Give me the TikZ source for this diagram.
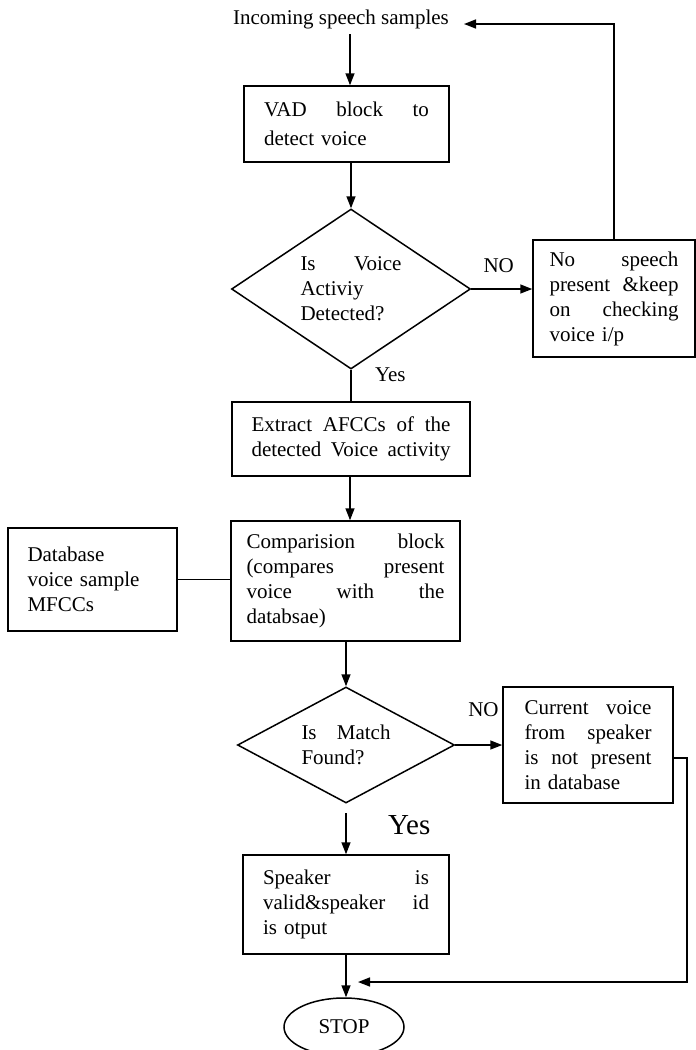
\documentclass[tikz,border=0pt]{standalone}
\usepackage{fontspec}
\setmainfont{Liberation Serif}
\usetikzlibrary{shapes.geometric,arrows.meta}
\newcommand{\jl}[1]{\makebox[\hsize][s]{\spaceskip=0.25em plus 1fil\relax #1}}
\begin{document}
\begin{tikzpicture}[x=1pt,y=-1pt,line width=1.5pt,
    font=\fontsize{21}{25}\selectfont,
    blk/.style={draw, rectangle, inner sep=0pt, align=left},
    dec/.style={draw, diamond, shape aspect=1.5, inner sep=0pt, align=left},
    arr/.style={-{Triangle[length=12pt,width=9pt]}}]
  \useasboundingbox (0,0) rectangle (696,1050);

  \node[inner sep=0pt] (nIn) at (341,19) {Incoming speech samples};
  \node[blk, minimum width=205, minimum height=76, text width=165,
        font=\fontsize{21}{29}\selectfont] (nVad) at (346.5,124)
        {\jl{VAD block to}\\detect voice};
  \node[dec, minimum width=239, minimum height=160, text width=101] (nVoice) at (351,289)
        {\jl{Is Voice}\\Activiy\\Detected?};
  \node[blk, minimum width=162, minimum height=117, text width=129] (nNoSp) at (614,298.5)
        {\jl{No speech}\\\jl{present \&keep}\\\jl{on checking}\\voice i/p};
  \node[blk, minimum width=238, minimum height=74, text width=199] (nExt) at (351,439)
        {\jl{Extract AFCCs of the}\\\jl{detected Voice activity}};
  \node[blk, minimum width=229, minimum height=120, text width=198] (nComp) at (345.5,581)
        {\jl{Comparision block}\\\jl{(compares present}\\\jl{voice with the}\\databsae)};
  \node[blk, minimum width=169, minimum height=103, text width=130] (nDb) at (92.5,579.5)
        {Database\\voice sample\\MFCCs};
  \node[dec, minimum width=217, minimum height=116, text width=89] (nMatch) at (346,745)
        {\jl{Is Match}\\Found?};
  \node[blk, minimum width=170, minimum height=116, text width=127] (nCur) at (588,745)
        {\jl{Current voice}\\\jl{from speaker}\\\jl{is not present}\\in database};
  \node[blk, minimum width=206, minimum height=99, text width=166] (nSpk) at (346,904.5)
        {\jl{Speaker is}\\\jl{valid\&speaker id}\\is otput};
  \node[draw, ellipse, minimum width=120, minimum height=58, inner sep=0pt] (nStop) at (344,1027) {STOP};

  \coordinate (cBack) at (464,24);
  \coordinate (cYes) at (346,813);
  \coordinate (cRight) at (687,982);
  \coordinate (cJoin) at (358,982);

  \draw[arr] (350,34) -- (nVad.north -| 350,0);
  \draw[arr] (nVad.south -| nVoice) -- (nVoice.north);
  \draw[arr] (nVoice.east) -- (nNoSp.west |- nVoice.east) node[pos=0.45, above=12pt] {NO};
  \draw[arr] (nNoSp.north) |- (cBack);
  \draw (nVoice.south) -- (nExt.north) node[pos=0.15, right=20pt] {Yes};
  \draw[arr] (nExt.south -| 350,0) -- (nComp.north -| 350,0);
  \draw (nDb.east) -- (nComp.west |- nDb.east);
  \draw[arr] (nComp.south -| nMatch) -- (nMatch.north);
  \draw[arr] (nMatch.east) -- (nCur.west) node[pos=0.6, above=24pt] {NO};
  \draw[arr] (cYes) -- (nSpk.north) node[pos=0.3, right=38pt, font=\fontsize{29}{32}\selectfont] {Yes};
  \draw[arr] ([yshift=-13]nCur.east) -| (cRight) -- (cJoin);
  \draw[arr] (nSpk) -- (nSpk |- nStop.north);
\end{tikzpicture}
\end{document}
